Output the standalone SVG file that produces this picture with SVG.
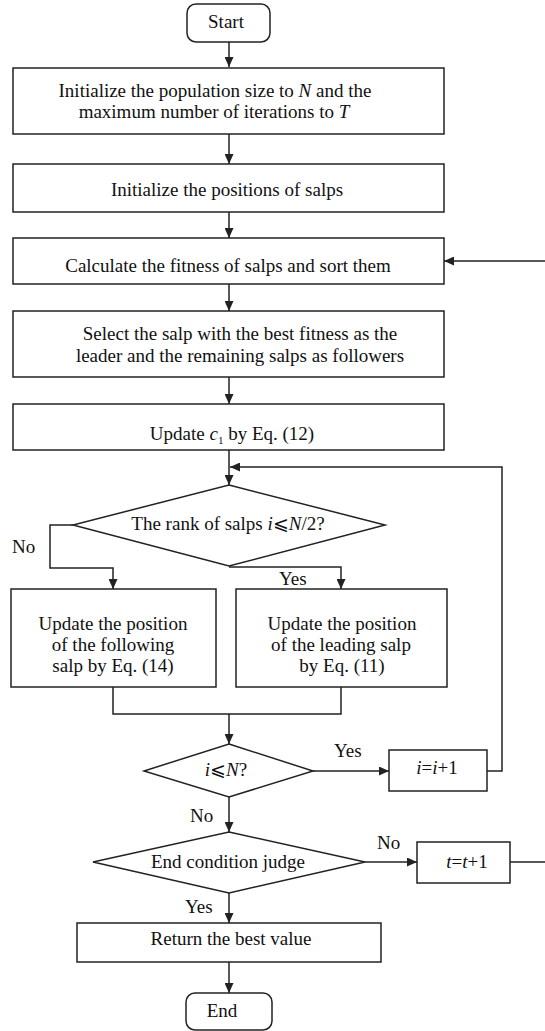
<svg xmlns="http://www.w3.org/2000/svg" width="545" height="1031" viewBox="0 0 545 1031">
<style>
.n{fill:#fff;stroke:#222;stroke-width:1.5}
.c{fill:none;stroke:#222;stroke-width:1.5}
text{font-family:"Liberation Serif","DejaVu Serif",serif;font-size:19px;fill:#111;text-anchor:middle}
.l{text-anchor:start}
.i{font-style:italic}
</style>
<defs>
<marker id="a" markerUnits="userSpaceOnUse" markerWidth="11" markerHeight="9" refX="10" refY="4.5" orient="auto">
<path d="M0,0 L10,4.5 L0,9 z" fill="#222"/>
</marker>
</defs>
<rect width="545" height="1031" fill="#fff"/>
<g id="connectors">
<path class="c" d="M229,42 V67" marker-end="url(#a)"/>
<path class="c" d="M229,134 V164" marker-end="url(#a)"/>
<path class="c" d="M229,212 V238" marker-end="url(#a)"/>
<path class="c" d="M229,284 V311" marker-end="url(#a)"/>
<path class="c" d="M229,377 V404" marker-end="url(#a)"/>
<path class="c" d="M229,450 V485" marker-end="url(#a)"/>
<path class="c" d="M73,525 H50 V568 H113 V589" marker-end="url(#a)"/>
<path class="c" d="M229,567 H341 V589" marker-end="url(#a)"/>
<path class="c" d="M113,687 V714 H341 V687"/>
<path class="c" d="M229,714 V744" marker-end="url(#a)"/>
<path class="c" d="M313,771 H389" marker-end="url(#a)"/>
<path class="c" d="M487,771 H502 V467 H230" marker-end="url(#a)"/>
<path class="c" d="M229,797 V832" marker-end="url(#a)"/>
<path class="c" d="M365,862 H417" marker-end="url(#a)"/>
<path class="c" d="M510,862 H548 V261 H444" marker-end="url(#a)"/>
<path class="c" d="M229,893 V923" marker-end="url(#a)"/>
<path class="c" d="M229,962 V993" marker-end="url(#a)"/>
<text class="l" x="12" y="553">No</text>
<text class="l" x="279" y="585">Yes</text>
<text class="l" x="334" y="757">Yes</text>
<text class="l" x="190" y="822">No</text>
<text class="l" x="377" y="849">No</text>
<text class="l" x="185" y="913">Yes</text>
</g>
<g id="start">
<rect class="n" x="187" y="4" width="83" height="38" rx="9"/>
<text x="226" y="28">Start</text>
</g>
<g id="init-params">
<rect class="n" x="13" y="68" width="431" height="66"/>
<text x="215" y="97">Initialize the population size to <tspan class="i">N</tspan> and the</text>
<text x="214" y="118">maximum number of iterations to <tspan class="i">T</tspan></text>
</g>
<g id="init-positions">
<rect class="n" x="13" y="164" width="431" height="48"/>
<text x="227" y="196">Initialize the positions of salps</text>
</g>
<g id="fitness">
<rect class="n" x="13" y="238" width="431" height="46"/>
<text x="228" y="272">Calculate the fitness of salps and sort them</text>
</g>
<g id="select">
<rect class="n" x="13" y="311" width="431" height="66"/>
<text x="240" y="340">Select the salp with the best fitness as the</text>
<text x="240" y="362">leader and the remaining salps as followers</text>
</g>
<g id="update-c1">
<rect class="n" x="13" y="404" width="431" height="46"/>
<text x="232" y="440">Update <tspan class="i">c</tspan><tspan font-size="11" dy="4">1</tspan><tspan dy="-4"> by Eq. (12)</tspan></text>
</g>
<g id="rank-decision">
<polygon class="n" points="229,485 385,525 229,566 73,525"/>
<text x="228" y="530">The rank of salps <tspan class="i">i</tspan>⩽<tspan class="i">N</tspan>/2?</text>
</g>
<g id="update-follower">
<rect class="n" x="11" y="589" width="205" height="98"/>
<text x="113" y="630">Update the position</text>
<text x="113" y="651">of the following</text>
<text x="113" y="672">salp by Eq. (14)</text>
</g>
<g id="update-leader">
<rect class="n" x="236" y="589" width="211" height="98"/>
<text x="342" y="630">Update the position</text>
<text x="341" y="651">of the leading salp</text>
<text x="342" y="672">by Eq. (11)</text>
</g>
<g id="i-decision">
<polygon class="n" points="229,744 313,771 229,797 144,771"/>
<text x="226" y="776"><tspan class="i">i</tspan>⩽<tspan class="i">N</tspan>?</text>
</g>
<g id="i-increment">
<rect class="n" x="389" y="750" width="98" height="41"/>
<text x="437" y="774"><tspan class="i">i</tspan>=<tspan class="i">i</tspan>+1</text>
</g>
<g id="end-decision">
<polygon class="n" points="229,832 365,862 229,893 93,862"/>
<text x="228" y="868">End condition judge</text>
</g>
<g id="t-increment">
<rect class="n" x="417" y="842" width="93" height="41"/>
<text x="467" y="868"><tspan class="i">t</tspan>=<tspan class="i">t</tspan>+1</text>
</g>
<g id="return-best">
<rect class="n" x="77" y="923" width="304" height="39"/>
<text x="231" y="945">Return the best value</text>
</g>
<g id="end">
<rect class="n" x="186" y="993" width="86" height="37" rx="9"/>
<text x="222" y="1017">End</text>
</g>
</svg>
